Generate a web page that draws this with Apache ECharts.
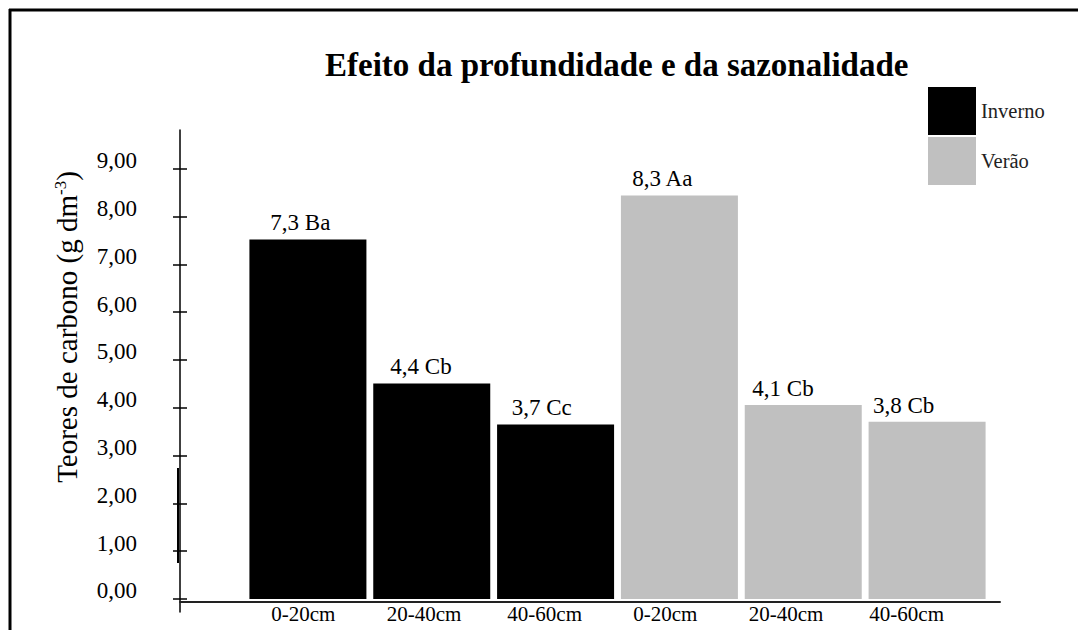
<!DOCTYPE html>
<html>
<head>
<meta charset="utf-8">
<script src="https://cdn.jsdelivr.net/npm/echarts@6/dist/echarts.min.js"></script>
<style>
  html, body { margin: 0; padding: 0; background: #fff; }
  #chart { width: 1078px; height: 630px; }
</style>
</head>
<body>
<div id="chart"></div>
<script>
// data
const categories = ['0-20cm', '20-40cm', '40-60cm', '0-20cm', '20-40cm', '40-60cm'];
const inverno = [7.52, 4.51, 3.65];
const verao = [8.44, 4.06, 3.71];
const invernoLabels = ['7,3 Ba', '4,4 Cb', '3,7 Cc'];
const veraoLabels = ['8,3 Aa', '4,1 Cb', '3,8 Cb'];
const yTicks = [0, 1, 2, 3, 4, 5, 6, 7, 8, 9];

const serif = "'Liberation Serif', 'Times New Roman', serif";
const yMax = 9.81;
const allLabels = invernoLabels.concat(veraoLabels);
const empty = ['-', '-', '-'];

const myChart = echarts.init(document.getElementById('chart'), null, { renderer: 'svg' });

const option = {
  backgroundColor: '#fff',
  animation: false,
  title: {
    text: 'Efeito da profundidade e da sazonalidade',
    left: 320,
    top: 43,
    textStyle: { fontFamily: serif, fontSize: 33, fontWeight: 'bold', color: '#000' }
  },
  legend: {
    data: ['Inverno', 'Verão'],
    orient: 'vertical',
    left: 923,
    top: 82,
    icon: 'rect',
    itemWidth: 48,
    itemHeight: 48,
    itemGap: 2,
    textStyle: { fontFamily: serif, fontSize: 20.5, color: '#222', padding: [16, 0, 0, 0] }
  },
  grid: [
    { left: 180, right: 78, top: 130, bottom: 18 },      // axes frame
    { left: 246, right: 89, top: 130, bottom: 31 },      // bars
    { left: 243, right: 111, top: 130, bottom: 31 }      // labels
  ],
  xAxis: [
    {
      gridIndex: 0, type: 'value', min: 0, max: 1, position: 'bottom', offset: -10,
      axisLine: { show: true, onZero: false, lineStyle: { color: '#222', width: 2 } },
      axisTick: { show: false }, axisLabel: { show: false }, splitLine: { show: false }
    },
    { gridIndex: 1, type: 'category', data: categories, show: false },
    {
      gridIndex: 2, type: 'category', data: categories,
      axisLine: { show: false }, axisTick: { show: false }, splitLine: { show: false },
      axisLabel: { fontFamily: serif, fontSize: 21, color: '#000', margin: 4 }
    }
  ],
  yAxis: [
    {
      gridIndex: 0, type: 'value', min: -0.272, max: yMax, position: 'left',
      axisLine: { show: true, lineStyle: { color: '#000', width: 1.5 } },
      axisTick: { show: true, customValues: yTicks, length: 7, lineStyle: { color: '#000', width: 1.5 } },
      axisLabel: {
        customValues: yTicks, margin: 43, fontFamily: serif, fontSize: 23, color: '#000',
        verticalAlign: 'bottom', lineHeight: 16,
        formatter: v => v.toFixed(2).replace('.', ',')
      },
      splitLine: { show: false }
    },
    {
      gridIndex: 0, type: 'value', min: -0.272, max: yMax, position: 'left',
      axisLine: { show: false },
      axisTick: { show: true, inside: true, customValues: yTicks, length: 7, lineStyle: { color: '#000', width: 1.5 } },
      axisLabel: { show: false }, splitLine: { show: false }
    },
    { gridIndex: 1, type: 'value', min: 0, max: yMax, show: false },
    { gridIndex: 2, type: 'value', min: 0, max: yMax, show: false }
  ],
  series: [
    {
      name: 'Inverno', type: 'bar', xAxisIndex: 1, yAxisIndex: 2,
      barWidth: 117, barGap: '-100%',
      itemStyle: { color: '#000' },
      data: inverno.concat(empty)
    },
    {
      name: 'Verão', type: 'bar', xAxisIndex: 1, yAxisIndex: 2,
      barWidth: 117, barGap: '-100%',
      itemStyle: { color: '#c0c0c0' },
      data: empty.concat(verao)
    },
    {
      name: 'rotulos', type: 'bar', xAxisIndex: 2, yAxisIndex: 3,
      barWidth: 1, silent: true,
      itemStyle: { color: 'rgba(0,0,0,0)' },
      label: {
        show: true, position: 'top', distance: 5, offset: [-3, 0],
        fontFamily: serif, fontSize: 23, color: '#000',
        formatter: p => allLabels[p.dataIndex]
      },
      data: inverno.concat(verao)
    }
  ],
  graphic: [
    { type: 'line', shape: { x1: 9, y1: 10, x2: 1078, y2: 10 }, style: { stroke: '#000', lineWidth: 3 } },
    { type: 'line', shape: { x1: 10, y1: 9, x2: 10, y2: 630 }, style: { stroke: '#000', lineWidth: 3 } },
    { type: 'line', shape: { x1: 178, y1: 468, x2: 178, y2: 563 }, style: { stroke: '#000', lineWidth: 2 } },
    {
      type: 'text', x: 67, y: 327, rotation: Math.PI / 2,
      style: {
        text: 'Teores de carbono (g dm{sup|-3})',
        align: 'center', verticalAlign: 'middle',
        fontFamily: serif, fontSize: 29, fill: '#000',
        rich: { sup: { fontFamily: serif, fontSize: 17, padding: [0, 0, 14, 0] } }
      }
    }
  ]
};

myChart.setOption(option);
window.onresize = function () {
  myChart.resize();
};
</script>
</body>
</html>
